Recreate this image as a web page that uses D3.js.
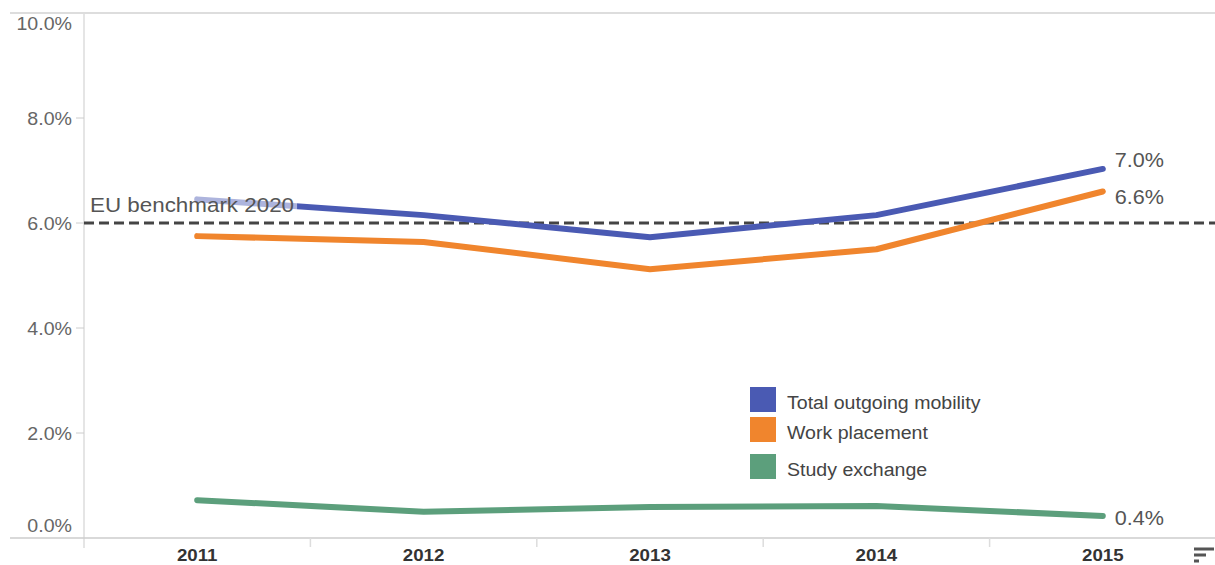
<!DOCTYPE html>
<html><head><meta charset="utf-8">
<script src="https://cdn.jsdelivr.net/npm/d3@7/dist/d3.min.js"></script>
<style>body{margin:0;background:#fff;font-family:Arial,"Liberation Sans",sans-serif}</style>
</head><body><svg id="c" width="1215" height="565"></svg>
<script>
const years = ["2011","2012","2013","2014","2015"];
const totalMobility = [6.45, 6.15, 5.73, 6.15, 7.03];
const workPlacement = [5.75, 5.64, 5.12, 5.5, 6.6];
const studyExchange = [0.72, 0.5, 0.59, 0.61, 0.42];
const seriesNames = ["Total outgoing mobility","Work placement","Study exchange"];
const seriesColors = ["#4a5ab3","#f0852d","#5c9f7c"];
const endLabels = ["7.0%","6.6%","0.4%"];
const yTicks = [0,2,4,6,8,10];
const benchmark = 6;
const benchmarkLabel = "EU benchmark 2020";

const svg = d3.select("#c");
const x = d3.scaleBand().domain(years).range([84,1216]);
const y = d3.scaleLinear().domain([0,10]).range([538,13]);

function stext(parent, tx, ty, str, size, fill, anchor, weight, sx){
  return parent.append("text")
    .attr("transform",`translate(${tx},${ty}) scale(${sx},1)`)
    .attr("text-anchor",anchor||"start").attr("font-size",size).attr("fill",fill)
    .attr("font-weight",weight||"normal").text(str);
}

// top line
svg.append("line").attr("x1",10).attr("x2",1215).attr("y1",y(10)).attr("y2",y(10)).attr("stroke","#ddd").attr("stroke-width",2);
// y axis
svg.append("line").attr("x1",84).attr("x2",84).attr("y1",13).attr("y2",548).attr("stroke","#ddd").attr("stroke-width",1.5);
// x axis
svg.append("line").attr("x1",10).attr("x2",1215).attr("y1",y(0)).attr("y2",y(0)).attr("stroke","#ccc").attr("stroke-width",1.5);
// x tick marks between bands
years.slice(1).forEach(d=>{
  svg.append("line").attr("x1",x(d)).attr("x2",x(d)).attr("y1",y(0)).attr("y2",547).attr("stroke","#ddd").attr("stroke-width",1.5);
});
// y ticks
yTicks.forEach(t=>{
  if(t>0 && t<10) svg.append("line").attr("x1",76).attr("x2",84).attr("y1",y(t)).attr("y2",y(t)).attr("stroke","#ccc").attr("stroke-width",1);
  let ty = y(t);
  if(t===0) ty = y(0)-13;
  if(t===10) ty = y(10)+10;
  stext(svg, 72, ty+6.6, t.toFixed(1)+"%", 18.5, "#666", "end", "normal", 1.06);
});
// x labels
years.forEach(d=>{
  stext(svg, x(d)+x.bandwidth()/2, 561, d, 17, "#333", "middle", "bold", 1.1);
});

// benchmark line
svg.append("line").attr("x1",84).attr("x2",1215).attr("y1",y(benchmark)).attr("y2",y(benchmark))
  .attr("stroke","#444").attr("stroke-width",3).attr("stroke-dasharray","10,5");

const data = [totalMobility, workPlacement, studyExchange];
const line = d3.line().x((d,i)=>x(years[i])+x.bandwidth()/2).y(d=>y(d));
[2,1,0].forEach(k=>{
  svg.append("path").attr("d",line(data[k])).attr("fill","none").attr("stroke",seriesColors[k])
    .attr("stroke-width",6).attr("stroke-linejoin","round").attr("stroke-linecap","round");
});

// benchmark label with translucent backdrop
const bg = svg.append("g");
const bt = stext(svg, 90, 212, benchmarkLabel, 20, "#555", "start", "normal", 1.12);
const bb = bt.node().getBoundingClientRect();
bg.append("rect").attr("x",bb.x).attr("y",bb.y-7).attr("width",bb.width+3).attr("height",bb.height+7)
  .attr("fill","#fff").attr("opacity",0.55);

// end labels
const endX = x("2015")+x.bandwidth()/2 + 12;
const endDy = [-9, 5, 2];
data.forEach((s,k)=>{
  stext(svg, endX, y(s[s.length-1])+endDy[k]+7, endLabels[k], 20, "#555", "start", "normal", 1.08);
});

// legend
const legY = [387, 417, 454];
const legBase = [409, 439, 476];
seriesNames.forEach((n,k)=>{
  svg.append("rect").attr("x",750).attr("y",legY[k]).attr("width",26).attr("height",25).attr("fill",seriesColors[k]);
  stext(svg, 787, legBase[k], n, 19, "#444", "start", "normal", 1.03);
});

// menu icon
[[20,549],[12,555],[5,561]].forEach(([w,yy])=>{
  svg.append("rect").attr("x",1194).attr("y",yy-1.5).attr("width",w).attr("height",3).attr("fill","#555");
});
</script></body></html>
